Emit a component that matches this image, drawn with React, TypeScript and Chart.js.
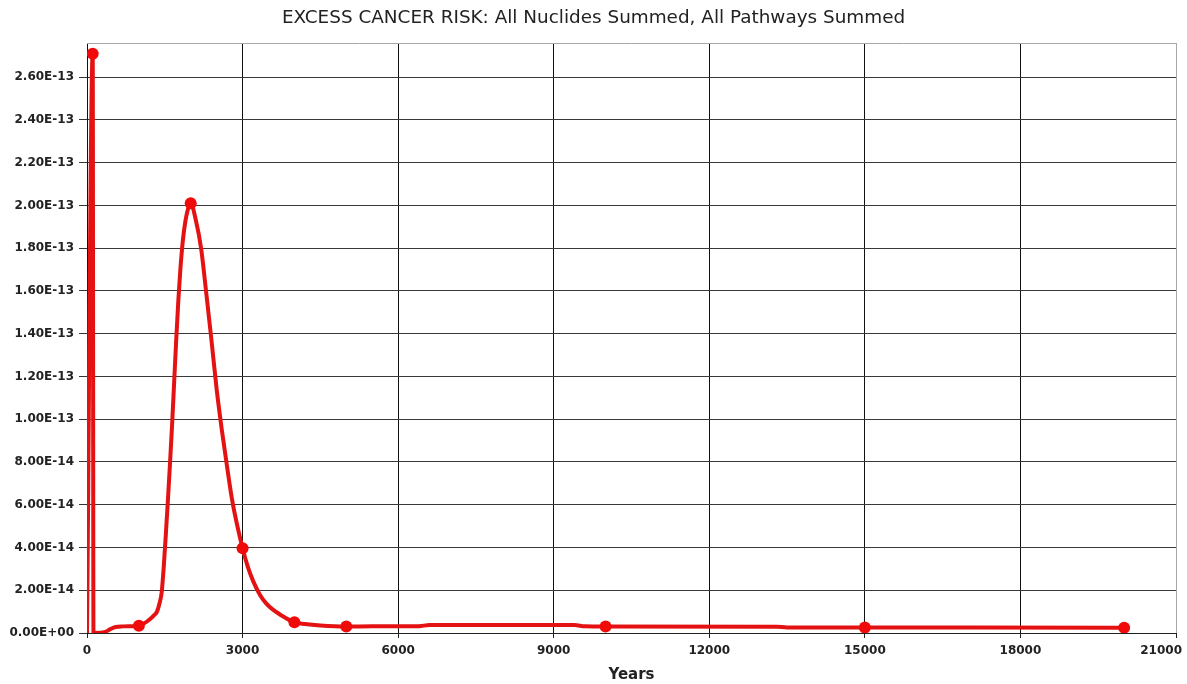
import React, { useEffect, useRef } from 'react';
import { Chart, registerables } from 'chart.js';

Chart.register(...registerables);

const TITLE = 'EXCESS CANCER RISK: All Nuclides Summed, All Pathways Summed';
const X_TITLE = 'Years';

const xTickValues = [0, 3000, 6000, 9000, 12000, 15000, 18000, 21000];
const yTickValues = [0, 2e-14, 4e-14, 6e-14, 8e-14, 1e-13, 1.2e-13, 1.4e-13, 1.6e-13, 1.8e-13, 2e-13, 2.2e-13, 2.4e-13, 2.6e-13];

const years = [
  0, 110, 125, 250, 350, 450, 550, 700, 850, 1000, 1100, 1200, 1300, 1350, 1400, 1440, 1480, 1520, 1560, 1600,
  1640, 1680, 1720, 1760, 1800, 1850, 1900, 1950, 2000, 2100, 2200, 2300, 2400, 2500, 2600, 2700, 2800, 2900,
  3000, 3100, 3200, 3336, 3450, 3592, 3800, 4000, 4200, 4500, 5000, 5500, 6400, 6600, 9400, 9600, 10000, 13300,
  13500, 15000, 20000,
];
const risk = [
  0, 2.71e-13, 5e-17, 1e-16, 5e-16, 1.8e-15, 2.8e-15, 3.1e-15, 3.2e-15, 3.4e-15, 4.5e-15, 6.2e-15, 8.5e-15, 1.0e-14,
  1.4e-14, 1.9e-14, 3.1e-14, 4.6e-14, 6.2e-14, 7.9e-14, 9.7e-14, 1.17e-13, 1.37e-13, 1.55e-13, 1.7e-13, 1.84e-13,
  1.93e-13, 1.985e-13, 2.01e-13, 1.93e-13, 1.8e-13, 1.59e-13, 1.37e-13, 1.14e-13, 9.5e-14, 7.8e-14, 6.2e-14, 5.0e-14,
  3.96e-14, 3.1e-14, 2.45e-14, 1.78e-14, 1.4e-14, 1.08e-14, 7.5e-15, 5.0e-15, 4.2e-15, 3.5e-15, 3.0e-15, 3.1e-15,
  3.2e-15, 3.7e-15, 3.7e-15, 3.1e-15, 3.0e-15, 2.95e-15, 2.6e-15, 2.55e-15, 2.5e-15,
];

const markerYears = [110, 1000, 2000, 3000, 4000, 5000, 10000, 15000, 20000];
const markerRisk = [2.71e-13, 3.4e-15, 2.01e-13, 3.96e-14, 5.0e-15, 3.0e-15, 3.0e-15, 2.55e-15, 2.5e-15];

const Y_MAX = 2.76e-13;
const X_MAX = 21000;

function fmtExp(v: number): string {
  const [m, e] = v.toExponential(2).split('e');
  const n = parseInt(e, 10);
  const sign = n < 0 ? '-' : '+';
  return `${m}E${sign}${String(Math.abs(n)).padStart(2, '0')}`;
}

export default function App() {
  const canvasRef = useRef<HTMLCanvasElement | null>(null);

  useEffect(() => {
    const canvas = canvasRef.current;
    if (!canvas) return;

    const decorPlugin = {
      id: 'decor',
      afterDraw(chart: any) {
        const ctx = chart.ctx;
        const area = chart.chartArea;
        const xs = chart.scales.x;
        ctx.save();
        // top border
        ctx.strokeStyle = '#a8a8a8';
        ctx.lineWidth = 1;
        ctx.beginPath();
        ctx.moveTo(area.left, Math.round(area.top) + 0.5);
        ctx.lineTo(area.right, Math.round(area.top) + 0.5);
        ctx.stroke();
        // title
        ctx.fillStyle = '#222';
        ctx.font = '18.4px "DejaVu Sans"';
        ctx.textAlign = 'center';
        ctx.textBaseline = 'middle';
        ctx.fillText(TITLE, chart.width / 2, 18);
        // x tick labels
        ctx.font = 'bold 12px "DejaVu Sans"';
        ctx.fillStyle = '#222';
        xTickValues.forEach((v) => {
          const label = String(v);
          const px = xs.getPixelForValue(v);
          const w = ctx.measureText(label).width;
          let cx = px;
          if (cx + w / 2 > chart.width - 5) cx = chart.width - 5 - w / 2;
          ctx.fillText(label, cx, area.bottom + 18);
        });
        // x title
        ctx.font = 'bold 15px "DejaVu Sans"';
        ctx.fillText(X_TITLE, (area.left + area.right) / 2, area.bottom + 42);
        ctx.restore();
      },
    };

    const chart = new Chart(canvas, {
      type: 'line',
      data: {
        datasets: [
          {
            data: markerYears.map((x, i) => ({ x, y: markerRisk[i] })),
            showLine: false,
            pointRadius: 6,
            pointBackgroundColor: 'rgb(240,10,10)',
            pointBorderColor: 'rgb(240,10,10)',
            pointBorderWidth: 0,
          },
          {
            data: years.map((x, i) => ({ x, y: risk[i] })),
            borderColor: 'rgb(228,18,18)',
            borderWidth: 4,
            pointRadius: 0,
            cubicInterpolationMode: 'monotone',
            fill: false,
          },
        ],
      },
      options: {
        animation: false,
        responsive: false,
        devicePixelRatio: 1,
        events: [],
        layout: { padding: { top: 43, right: 11, bottom: 0, left: 0 } },
        plugins: {
          legend: { display: false },
          tooltip: { enabled: false },
          title: { display: false },
        },
        scales: {
          x: {
            type: 'linear',
            min: 0,
            max: X_MAX,
            afterBuildTicks: (s: any) => {
              s.ticks = xTickValues.map((v) => ({ value: v }));
            },
            afterFit: (s: any) => {
              s.height = 51;
              s.paddingLeft = 0;
              s.paddingRight = 0;
            },
            ticks: { display: false },
            grid: {
              color: (c: any) => (c.tick && c.tick.value === X_MAX ? '#a8a8a8' : '#111'),
              lineWidth: 1,
              drawTicks: true,
              tickLength: 5,
              tickColor: '#222',
            },
            border: { display: true, color: '#222', width: 1 },
          },
          y: {
            type: 'linear',
            min: 0,
            max: Y_MAX,
            afterBuildTicks: (s: any) => {
              s.ticks = yTickValues.map((v) => ({ value: v }));
            },
            afterFit: (s: any) => {
              s.width = 87;
            },
            ticks: {
              callback: (v: any) => fmtExp(Number(v)),
              font: { family: '"DejaVu Sans"', size: 12, weight: 'bold' },
              color: '#222',
              padding: 5,
            },
            grid: {
              color: '#3a3a3a',
              lineWidth: 1,
              drawTicks: true,
              tickLength: 8,
              tickColor: '#333',
            },
            border: { display: true, color: '#111', width: 1 },
          },
        },
      },
      plugins: [decorPlugin],
    } as any);

    return () => chart.destroy();
  }, []);

  return (
    <div style={{ position: 'absolute', left: 0, top: 0, width: 1187, height: 684, background: '#fff' }}>
      <canvas ref={canvasRef} width={1187} height={684} style={{ display: 'block' }} />
    </div>
  );
}
